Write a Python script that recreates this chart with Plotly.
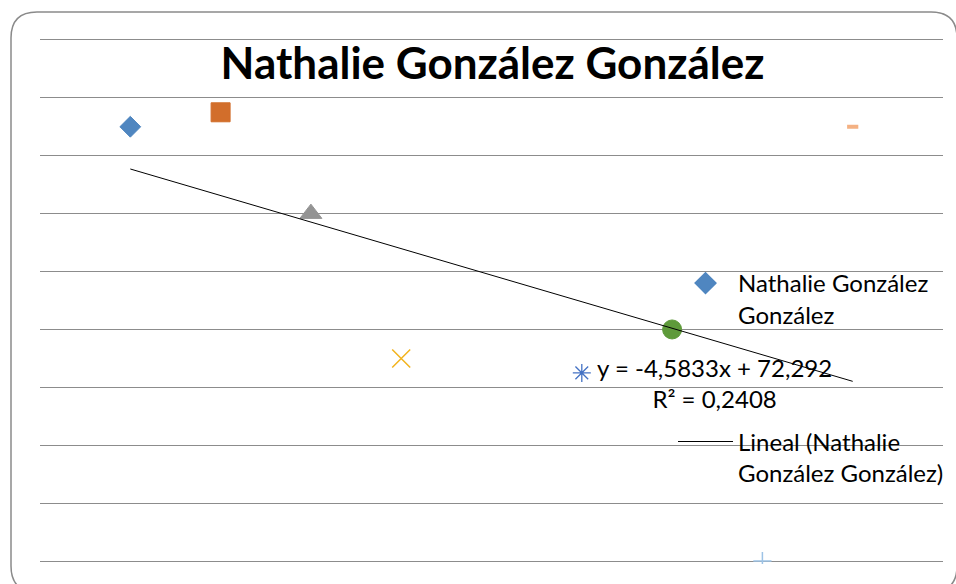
import numpy as np
import plotly.graph_objects as go

# ---- data ----
series_name = "Nathalie González González"
x_vals = [1, 2, 3, 4, 6, 7, 8, 9]
y_vals = [75, 77.5, 60, 35, 32.5, 40, 0, 75]
point_symbols = ["diamond", "square", "triangle-up", "x-thin-open", "asterisk-open",
                 "circle", "cross-thin-open", "line-ew-open"]
point_colors = ["#4F86C0", "#D26E2B", "#939393", "#F2B31C", "#4472C4",
                "#5E9A3A", "#9DC3E6", "#F4B183"]
point_sizes = [16, 19, 19, 18, 15, 19, 13, 8]
point_line_w = [1, 1, 1, 1.5, 1.3, 1, 1.5, 4]

# linear trendline (least squares, as Excel "Lineal")
slope, intercept = np.polyfit(x_vals, y_vals, 1)
pred = slope * np.array(x_vals) + intercept
ss_res = np.sum((np.array(y_vals) - pred) ** 2)
ss_tot = np.sum((np.array(y_vals) - np.mean(y_vals)) ** 2)
r2 = 1 - ss_res / ss_tot
trend_x = [min(x_vals), max(x_vals)]
trend_y = [slope * v + intercept for v in trend_x]

def es_num(v, d):
    return f"{v:.{d}f}".rstrip("0").rstrip(".").replace(".", ",")

eq_text = f"y = {es_num(slope, 4)}x + {es_num(intercept, 3)}<br>R² = {es_num(r2, 4)}"

FONT = "Lato"

fig = go.Figure()
fig.add_trace(go.Scatter(
    x=x_vals, y=y_vals, mode="markers",
    name="Nathalie González<br>González",
    legendgroup="a",
    marker=dict(symbol=point_symbols, color=point_colors, size=point_sizes, opacity=1,
                line=dict(color=point_colors, width=point_line_w)),
))
fig.add_trace(go.Scatter(
    x=trend_x, y=trend_y, mode="lines",
    name="Lineal (Nathalie<br>González González)",
    legendgroup="b",
    line=dict(color="#000000", width=1),
))

# plot-area geometry (pixels)
L, R, T, B = 40, 13, 37, 20
W, H = 956, 584
pw, ph = W - L - R, H - T - B

def px_x(p):
    return (p - L) / pw

def px_y(p):
    return (H - B - p) / ph

# rounded chart-area border
x0, y0, x1, y1, r = 11, 12, 957, 592, 26
path = (f"M {px_x(x0 + r)},{px_y(y0)} L {px_x(x1 - r)},{px_y(y0)} "
        f"Q {px_x(x1)},{px_y(y0)} {px_x(x1)},{px_y(y0 + r)} "
        f"L {px_x(x1)},{px_y(y1 - r)} Q {px_x(x1)},{px_y(y1)} {px_x(x1 - r)},{px_y(y1)} "
        f"L {px_x(x0 + r)},{px_y(y1)} Q {px_x(x0)},{px_y(y1)} {px_x(x0)},{px_y(y1 - r)} "
        f"L {px_x(x0)},{px_y(y0 + r)} Q {px_x(x0)},{px_y(y0)} {px_x(x0 + r)},{px_y(y0)} Z")
fig.add_shape(type="path", path=path, xref="paper", yref="paper",
              line=dict(color="#8a8a8a", width=1.5), fillcolor="rgba(0,0,0,0)")

fig.add_annotation(
    x=7.47, y=30.7, xref="x", yref="y", text=eq_text, showarrow=False,
    xanchor="center", yanchor="middle", align="center",
    font=dict(family=FONT, size=24, color="#000000"),
)

fig.update_layout(
    width=W, height=H, autosize=False,
    margin=dict(l=L, r=R, t=T, b=B, autoexpand=False),
    paper_bgcolor="white", plot_bgcolor="white",
    title=dict(text=series_name, x=492.5 / W, xanchor="center", xref="container",
               y=1 - 64 / H, yanchor="middle", yref="container",
               font=dict(family=FONT, size=44, color="#000000", weight="bold")),
    xaxis=dict(range=[0, 10], showgrid=False, zeroline=False, showline=False,
               showticklabels=False, ticks=""),
    yaxis=dict(range=[-0.5, 90.5], tick0=0, dtick=10, showgrid=True, gridcolor="#8c8c8c",
               gridwidth=1, zeroline=False, showline=False, showticklabels=False, ticks=""),
    showlegend=True,
    legend=dict(x=px_x(673), y=px_y(261), xanchor="left", yanchor="top",
                bgcolor="rgba(0,0,0,0)", itemwidth=55, valign="top",
                traceorder="grouped", tracegroupgap=93,
                font=dict(family=FONT, size=24, color="#000000")),
)

fig.write_html(
    "out.html",
    config={"responsive": False, "displayModeBar": False},
    post_script=("document.body.style.margin='0';"
                 "document.body.style.overflow='hidden';"
                 "document.documentElement.style.overflow='hidden';"),
)
